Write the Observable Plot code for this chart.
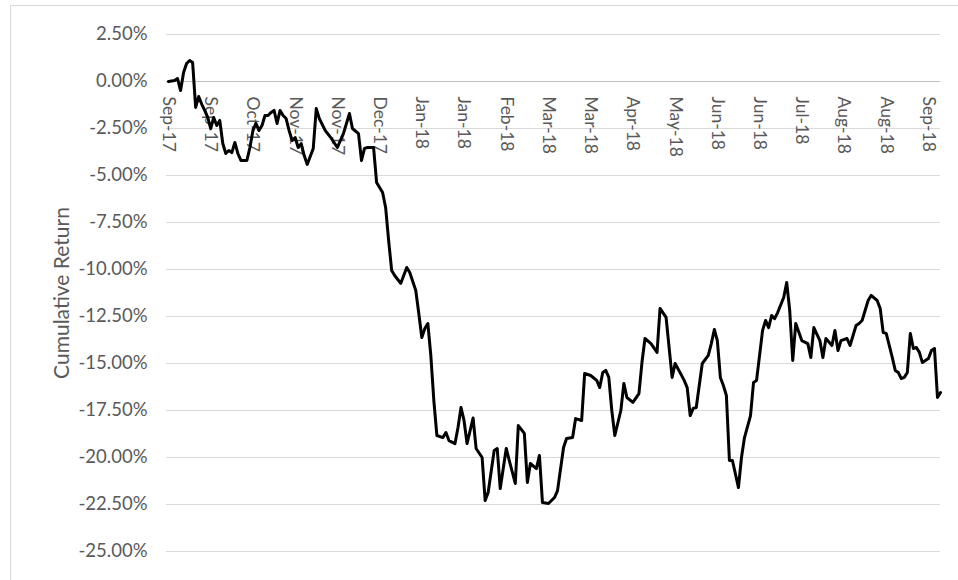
<!DOCTYPE html>
<html><head><meta charset="utf-8">
<script src="https://cdn.jsdelivr.net/npm/d3@7"></script>
<script src="https://cdn.jsdelivr.net/npm/@observablehq/plot@0.6"></script>
<style>
html,body{margin:0;padding:0;background:#fff;overflow:hidden;width:958px;height:580px;}
#chart{position:absolute;left:0;top:0;}
#frame{position:absolute;left:10px;top:5px;width:1200px;height:1200px;border:1px solid #d9d9d9;pointer-events:none;}
</style></head><body>
<div id="chart"></div><div id="frame"></div>
<script>
// trading-day index of each read point
const day = [0,2,3,4,5,6,7,8,9,10,11,12,13,14,15,16,17,18,19,20,21,22,23,24,26,27,28,29,30,31,32,33,34,35,36,37,38,39,40,41,42,43,44,45,46,48,49,50,52,54,56,58,60,61,63,64,65,66,68,69,70,71,72,73,74,75,77,79,80,82,83,84,85,86,87,88,89,91,92,93,95,96,97,98,99,101,102,104,105,106,108,109,110,112,113,115,116,118,119,120,122,123,124,126,128,129,131,132,134,135,137,138,140,142,143,144,145,146,147,148,150,151,152,154,156,157,158,160,162,163,165,167,168,170,171,172,173,174,175,177,179,180,181,182,183,184,185,186,187,189,190,191,193,194,195,197,198,199,200,201,202,204,205,206,207,208,210,212,213,214,216,217,218,220,221,222,223,225,226,228,229,230,232,233,235,236,237,238,240,241,242,243,244,245,246,247,248,249,250,252,253,254,255,256];
// cumulative return (%)
const ret = [0.00,0.05,0.16,-0.48,0.48,0.96,1.12,1.01,-1.38,-0.80,-1.20,-1.54,-1.91,-2.50,-1.91,-2.34,-2.07,-3.30,-3.83,-3.67,-3.78,-3.24,-3.83,-4.20,-4.20,-3.51,-2.61,-2.23,-2.61,-2.34,-1.81,-1.81,-1.65,-1.54,-2.23,-1.54,-1.81,-1.97,-2.61,-3.14,-2.98,-3.51,-3.30,-3.94,-4.41,-3.56,-1.44,-1.97,-2.61,-3.03,-3.51,-2.77,-1.70,-2.50,-2.77,-4.20,-3.56,-3.51,-3.51,-5.37,-5.64,-5.90,-6.70,-8.46,-10.05,-10.32,-10.74,-9.89,-10.16,-11.12,-12.34,-13.62,-13.14,-12.87,-14.60,-17.00,-18.83,-18.94,-18.67,-19.10,-19.26,-18.40,-17.34,-18.03,-19.26,-17.90,-19.52,-20.00,-22.29,-21.86,-19.63,-19.52,-21.65,-19.52,-20.16,-21.38,-18.30,-18.72,-21.33,-20.32,-20.59,-19.89,-22.39,-22.45,-22.13,-21.76,-19.47,-18.99,-18.94,-17.93,-18.03,-15.53,-15.64,-15.90,-16.28,-15.48,-15.37,-15.74,-17.50,-18.83,-17.50,-16.06,-16.81,-17.07,-16.60,-14.95,-13.67,-13.94,-14.41,-12.07,-12.55,-15.74,-15.00,-15.59,-15.90,-16.28,-17.77,-17.39,-17.34,-15.00,-14.57,-13.94,-13.19,-13.78,-15.74,-16.17,-16.70,-20.16,-20.16,-21.60,-20.00,-18.94,-17.77,-16.01,-15.90,-13.24,-12.71,-13.09,-12.45,-12.61,-12.29,-11.49,-10.69,-12.18,-14.84,-12.87,-13.78,-13.94,-14.68,-13.09,-13.78,-14.68,-13.67,-14.04,-13.24,-14.31,-13.78,-13.67,-14.04,-12.98,-12.87,-12.71,-11.65,-11.38,-11.65,-12.07,-13.35,-13.40,-14.68,-15.37,-15.48,-15.80,-15.74,-15.48,-13.40,-14.20,-14.15,-14.41,-14.95,-14.73,-14.31,-14.20,-16.81,-16.54];
// category axis labels (every 14th trading day)
const tickDays = [0,14,28,42,56,70,84,98,112,126,140,154,168,182,196,210,224,238,252];
const tickLabels = ["Sep-17","Sep-17","Oct-17","Nov-17","Nov-17","Dec-17","Jan-18","Jan-18","Feb-18","Mar-18","Mar-18","Apr-18","May-18","Jun-18","Jun-18","Jul-18","Aug-18","Aug-18","Sep-18"];
const yTicks = [2.5,0,-2.5,-5,-7.5,-10,-12.5,-15,-17.5,-20,-22.5,-25];

const data = day.map((d,i)=>({day:d, ret:ret[i]}));
const xLabels = tickDays.map((d,i)=>({day:d, label:tickLabels[i]}));

const chart = Plot.plot({
  width:958, height:580,
  marginLeft:166, marginRight:18, marginTop:34, marginBottom:29,
  style:{fontFamily:"Lato, 'Open Sans', sans-serif", fontSize:"18px", color:"#595959", background:"transparent"},
  x:{domain:[0,256], range:[168,940], axis:null},
  y:{domain:[-25,2.5], axis:null},
  marks:[
    Plot.ruleY(yTicks.filter(v=>v!==0), {stroke:"#d9d9d9", strokeWidth:1, strokeOpacity:1}),
    Plot.ruleY([0], {stroke:"#bfbfbf", strokeWidth:1.2, strokeOpacity:1}),
    Plot.axisY({ticks:yTicks, tickFormat:d=>d.toFixed(2)+"%", tickSize:0, tickPadding:19, label:null, fill:"#595959", fontSize:18.5}),
    Plot.text(["Cumulative Return"], {frameAnchor:"left", dx:-104, rotate:-90, textAnchor:"middle", fill:"#595959", fontSize:21}),
    Plot.text(xLabels, {x:"day", y:()=>0, text:"label", rotate:90, textAnchor:"start", lineAnchor:"middle", dy:15, fill:"#595959", fontSize:17.5}),
    Plot.line(data, {x:"day", y:"ret", stroke:"#000", strokeWidth:3, strokeLinejoin:"round"})
  ]
});
document.getElementById("chart").appendChild(chart);
</script>
</body></html>
